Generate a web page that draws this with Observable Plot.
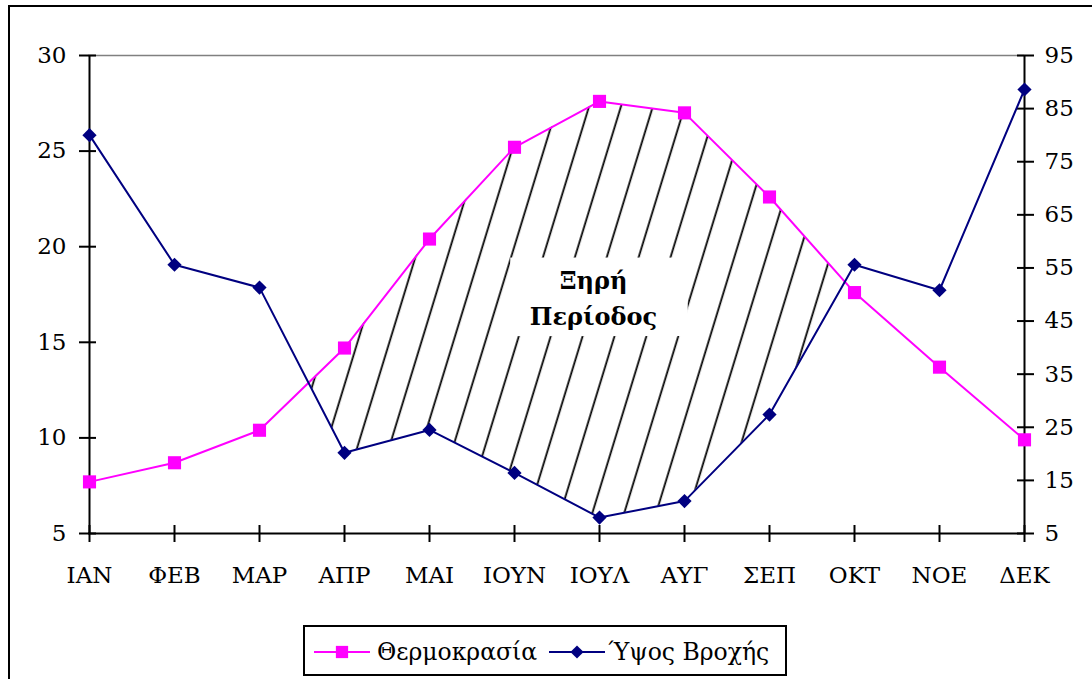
<!DOCTYPE html>
<html>
<head>
<meta charset="utf-8">
<script src="https://cdn.jsdelivr.net/npm/d3@7"></script>
<script src="https://cdn.jsdelivr.net/npm/@observablehq/plot@0.6"></script>
<style>
  html, body { margin: 0; padding: 0; background: white; }
  #wrap { position: relative; width: 1092px; height: 679px; overflow: hidden; background: white; font-family: "DejaVu Serif", serif; }
  #frame { position: absolute; left: 8px; top: 5px; width: 1200px; height: 800px; border-left: 2px solid black; border-top: 2px solid black; }
  #chart { position: absolute; left: 0; top: 0; }
  #legend { position: absolute; left: 303px; top: 625px; width: 480px; height: 45px; border: 2px solid black; background: white;
            display: flex; align-items: center; font-size: 23.5px; color: black; padding-top: 2px; box-sizing: content-box; }
  #legend svg { display: block; }
</style>
</head>
<body>
<svg width="0" height="0" style="position:absolute">
  <defs>
    <pattern id="hatch" patternUnits="userSpaceOnUse" width="30.5" height="40" patternTransform="rotate(17)">
      <line x1="15" y1="-5" x2="15" y2="45" stroke="black" stroke-width="1.8"/>
    </pattern>
  </defs>
</svg>
<div id="wrap">
  <div id="frame"></div>
  <div id="chart"></div>
  <div id="legend"></div>
</div>
<script>
// ---- data ----
const months = ["ΙΑΝ","ΦΕΒ","ΜΑΡ","ΑΠΡ","ΜΑΙ","ΙΟΥΝ","ΙΟΥΛ","ΑΥΓ","ΣΕΠ","ΟΚΤ","ΝΟΕ","ΔΕΚ"];
const temperature = [7.7, 8.7, 10.4, 14.7, 20.4, 25.2, 27.6, 27.0, 22.6, 17.6, 13.7, 9.9];
const rainfall = [80.0, 55.6, 51.3, 20.2, 24.5, 16.4, 8.0, 11.1, 27.4, 55.6, 50.8, 88.6];
const tempTicks = [5, 10, 15, 20, 25, 30];
const rainTicks = [5, 15, 25, 35, 45, 55, 65, 75, 85, 95];
const seriesNames = ["Θερμοκρασία", "Ύψος Βροχής"];
const annotation = "Ξηρή\nΠερίοδος";

const tempColor = "#FF00FF";
const rainColor = "#000080";

// map rainfall (right axis 5..95) onto temperature axis (5..30)
const toTemp = r => 5 + (r - 5) * 25 / 90;
const toRain = t => 5 + (t - 5) * 90 / 25;

const data = months.map((m, i) => ({month: m, temp: temperature[i], rain: rainfall[i], rainY: toTemp(rainfall[i])}));

const plot = Plot.plot({
  width: 1092,
  height: 610,
  marginLeft: 88,
  marginRight: 68,
  marginTop: 55,
  marginBottom: 77,
  style: {fontFamily: "DejaVu Serif", fontSize: "23px", color: "black", background: "transparent", overflow: "visible"},
  x: {type: "point", domain: months, padding: 0, label: null},
  y: {domain: [5, 30], label: null},
  marks: [
    // hatched dry period: below temperature, above rainfall
    Plot.areaY(data, {x: "month", y1: 5, y2: "temp", fill: "url(#hatch)"}),
    Plot.areaY(data, {x: "month", y1: 5, y2: "rainY", fill: "white"}),
    Plot.ruleY([30], {stroke: "#808080", strokeWidth: 1.5}),
    Plot.ruleY([5], {stroke: "black", strokeWidth: 2}),
    Plot.ruleX([months[0], months[months.length - 1]], {y1: 5, y2: 30, stroke: "black", strokeWidth: 2}),
    // left axis
    Plot.axisY(tempTicks, {anchor: "left", tickSize: 17, dx: 8, strokeWidth: 2, tickFormat: () => ""}),
    Plot.axisY(tempTicks, {anchor: "left", tickSize: 0, tickPadding: 22}),
    // right axis
    Plot.axisY(rainTicks.map(toTemp), {anchor: "right", tickSize: 17, dx: -8, strokeWidth: 2, tickFormat: () => ""}),
    Plot.axisY(rainTicks.map(toTemp), {anchor: "right", tickSize: 0, tickPadding: 20, tickFormat: d => String(Math.round(toRain(d)))}),
    // bottom axis
    Plot.axisX({anchor: "bottom", tickSize: 17, dy: -8, strokeWidth: 2, tickFormat: () => ""}),
    Plot.axisX({anchor: "bottom", tickSize: 0, tickPadding: 33}),
    // series
    Plot.line(data, {x: "month", y: "temp", stroke: tempColor, strokeWidth: 2}),
    Plot.line(data, {x: "month", y: "rainY", stroke: rainColor, strokeWidth: 2}),
    Plot.dot(data, {x: "month", y: "temp", symbol: "square", r: 7.4, fill: tempColor, stroke: "none"}),
    Plot.dot(data, {x: "month", y: "rainY", symbol: "diamond2", r: 6.4, fill: rainColor, stroke: "none"}),
    // annotation
    Plot.text([{month: "ΙΟΥΛ", y: 17.45, label: annotation}], {x: "month", y: "y", text: "label", dx: -6, fontWeight: "bold", fontSize: 24, lineHeight: 1.48, fill: "black", className: "dry-label"})
  ]
});
document.getElementById("chart").appendChild(plot);

// white box behind the annotation
const lab = plot.querySelector(".dry-label");
if (lab) {
  const bb = lab.getBBox();
  const rect = document.createElementNS("http://www.w3.org/2000/svg", "rect");
  rect.setAttribute("x", bb.x - 25);
  rect.setAttribute("y", bb.y - 8);
  rect.setAttribute("width", bb.width + 50);
  rect.setAttribute("height", bb.height + 14);
  rect.setAttribute("fill", "white");
  lab.parentNode.insertBefore(rect, lab);
}

// legend
const legend = d3.select("#legend");
function legendItem(color, symbol, size, name, mlLine, mlText) {
  const s = legend.append("svg").attr("width", 56).attr("height", 20).style("margin-left", mlLine + "px");
  s.append("line").attr("x1", 0).attr("x2", 56).attr("y1", 10).attr("y2", 10).attr("stroke", color).attr("stroke-width", 2);
  s.append("path").attr("transform", "translate(28,10)").attr("d", d3.symbol(symbol, size)()).attr("fill", color);
  legend.append("span").text(name).style("margin-left", mlText + "px").style("white-space", "nowrap");
}
legendItem(tempColor, d3.symbolSquare, 150, seriesNames[0], 9, 7);
legendItem(rainColor, d3.symbolDiamond2, 110, seriesNames[1], 12, 3);
</script>
</body>
</html>
